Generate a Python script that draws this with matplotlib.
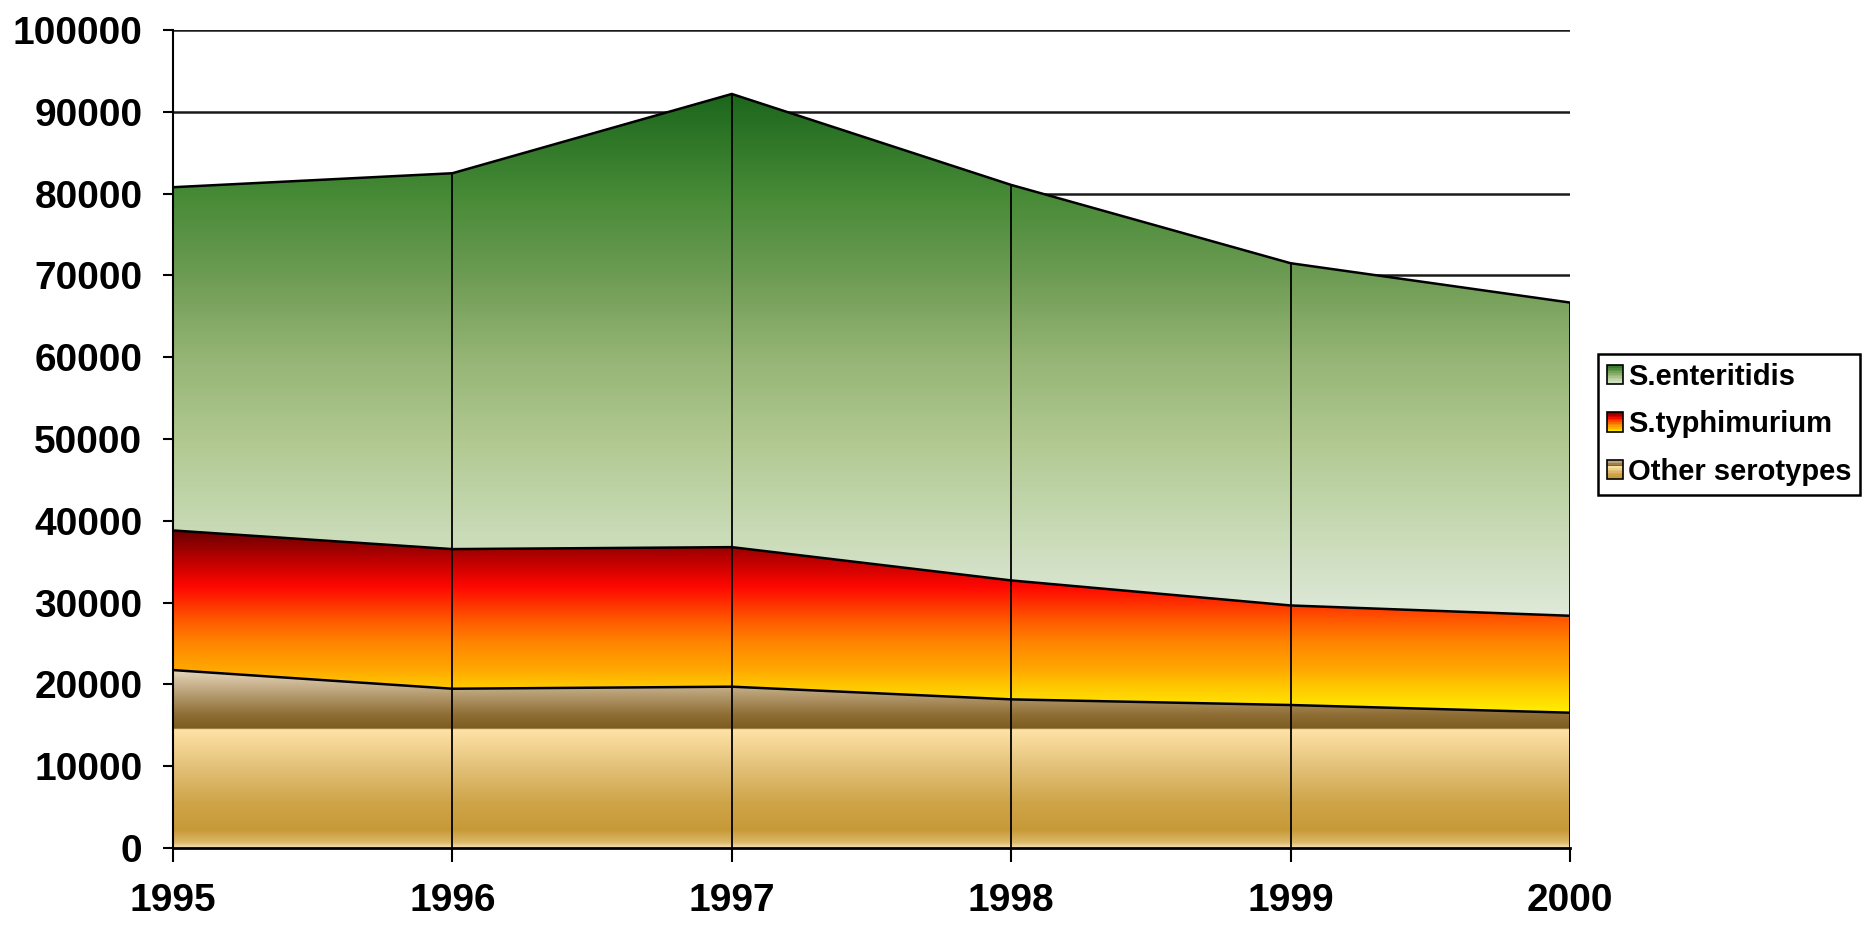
import numpy as np
import matplotlib
matplotlib.use('Agg')
import matplotlib.pyplot as plt
from matplotlib.colors import LinearSegmentedColormap
from matplotlib.patches import Rectangle, Patch
from matplotlib.legend_handler import HandlerBase

# ---- data ----
years = [1995, 1996, 1997, 1998, 1999, 2000]
other_serotypes = [21750, 19470, 19720, 18170, 17480, 16540]
s_typhimurium = [17070, 17070, 17060, 14540, 12170, 11850]
s_enteritidis = [41960, 45950, 55400, 48350, 41840, 38290]
series_labels = ['S.enteritidis', 'S.typhimurium', 'Other serotypes']
ytick_values = list(range(0, 100001, 10000))
ytick_labels = [str(v) for v in ytick_values]
xtick_labels = [str(y) for y in years]

plt.rcParams['font.family'] = ['Liberation Sans', 'DejaVu Sans']
plt.rcParams['font.weight'] = 'bold'

# ---- gradient colormaps ----
cmap_brown = LinearSegmentedColormap.from_list('brown', [
    (0.0, '#f2e2b8'), (0.03, '#dcb868'), (0.10, '#c79a38'), (0.25, '#cfa448'),
    (0.45, '#e2c078'), (0.60, '#f6d898'), (0.668, '#fde4a8'), (0.672, '#7e5c20'),
    (0.75, '#8e6e34'), (0.87, '#b89e74'), (1.0, '#e6d6bc')])
cmap_fire = LinearSegmentedColormap.from_list('fire', [
    (0.0, '#fff000'), (0.155, '#ffc400'), (0.245, '#ffa600'), (0.38, '#ff8600'),
    (0.51, '#ff5800'), (0.69, '#ff0800'), (0.83, '#c00000'), (1.0, '#680000')])
cmap_green = LinearSegmentedColormap.from_list('green', [
    (0.0, '#dfe9d9'), (0.18, '#c6d9b2'), (0.34, '#b0c890'), (0.5, '#94b474'),
    (0.65, '#6e9c54'), (0.81, '#468a36'), (1.0, '#1c661c')])

x = np.array(years, dtype=float)
b0 = np.zeros(len(years))
t0 = b0 + np.array(other_serotypes)
t1 = t0 + np.array(s_typhimurium)
t2 = t1 + np.array(s_enteritidis)

fig = plt.figure(figsize=(18.7, 9.26), dpi=100)
ax = fig.add_axes([173 / 1870, 78 / 926, 1397 / 1870, 818 / 926])

grad = np.linspace(0, 1, 1024).reshape(-1, 1)
for bottom, top, cmap in [(b0, t0, cmap_brown), (t0, t1, cmap_fire), (t1, t2, cmap_green)]:
    poly = ax.fill_between(x, bottom, top, facecolor='none', edgecolor='none')
    im = ax.imshow(grad, extent=[x[0], x[-1], bottom.min(), top.max()],
                   aspect='auto', origin='lower', cmap=cmap, zorder=2,
                   interpolation='bilinear')
    im.set_clip_path(poly.get_paths()[0], ax.transData)
    ax.plot(x, top, color='black', lw=1.8, zorder=4, solid_joinstyle='miter')

ax.vlines(x[1:], 0, t2[1:], color='black', lw=1.3, zorder=4)

ax.set_xlim(1995, 2000)
ax.set_ylim(0, 100000)
ax.set_axisbelow(True)
ax.grid(axis='y', color='#1a1a1a', lw=1.8)
ax.grid(axis='x', visible=False)

ax.set_yticks(ytick_values)
ax.set_yticklabels(ytick_labels)
ax.set_xticks(years)
ax.set_xticklabels(xtick_labels)
ax.tick_params(axis='y', length=7, width=1.5, pad=15, labelsize=28)
ax.tick_params(axis='x', length=10, width=1.5, pad=15, labelsize=28)
for lbl in ax.get_xticklabels() + ax.get_yticklabels():
    lbl.set_fontweight('bold')

for s in ['top', 'right']:
    ax.spines[s].set_visible(False)
ax.spines['left'].set_linewidth(1.5)
ax.spines['bottom'].set_linewidth(2.0)
ax.spines['left'].set_zorder(5)
ax.spines['bottom'].set_zorder(5)


class GradHandler(HandlerBase):
    def __init__(self, cmap):
        super().__init__()
        self.cmap = cmap

    def create_artists(self, legend, orig_handle, xdescent, ydescent,
                       width, height, fontsize, trans):
        n = 12
        x0, y0 = -xdescent, -ydescent
        arts = []
        for i in range(n):
            arts.append(Rectangle((x0, y0 + i * height / n), width, height / n,
                                  facecolor=self.cmap((i + 0.5) / n),
                                  edgecolor='none', transform=trans))
        arts.append(Rectangle((x0, y0), width, height, fill=False,
                              edgecolor='black', lw=1.2, transform=trans))
        return arts


handles = [Patch(label=series_labels[0]), Patch(label=series_labels[1]),
           Patch(label=series_labels[2])]
leg = fig.legend(handles=handles, labels=series_labels, loc='upper left',
                 bbox_to_anchor=(1598 / 1870, 1 - 354 / 926), borderaxespad=0,
                 fancybox=False, framealpha=1, edgecolor='black',
                 prop={'size': 21, 'weight': 'bold'},
                 handlelength=0.55, handleheight=0.65, handletextpad=0.17,
                 labelspacing=0.67, borderpad=0.3,
                 handler_map={handles[0]: GradHandler(cmap_green),
                              handles[1]: GradHandler(cmap_fire),
                              handles[2]: GradHandler(cmap_brown)})
leg.get_frame().set_linewidth(1.8)

fig.savefig('out.png', dpi=100)
